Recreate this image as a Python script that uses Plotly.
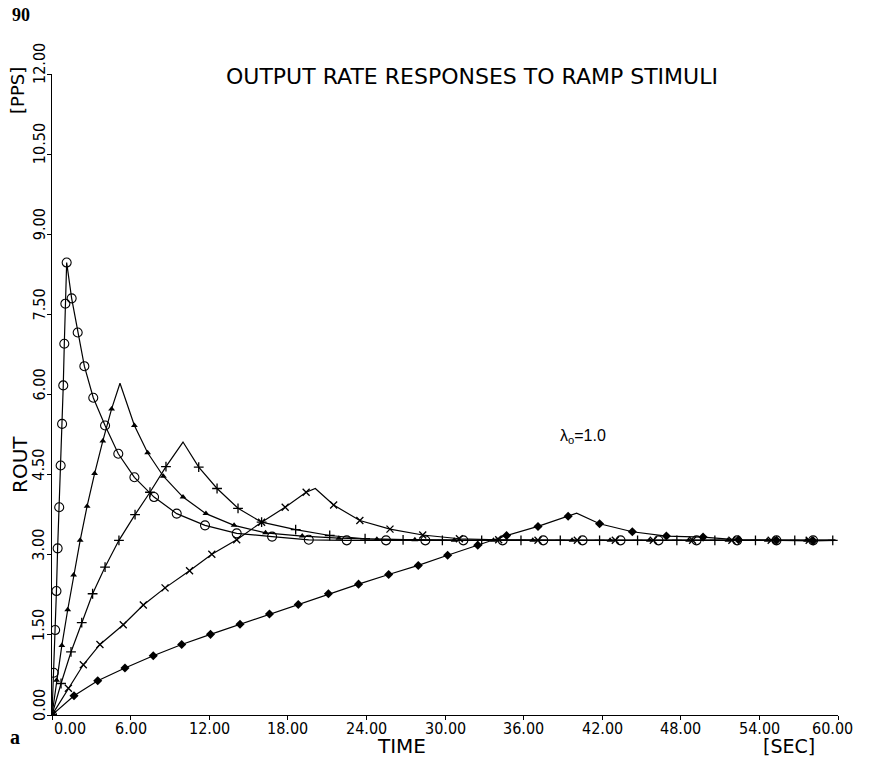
import plotly.graph_objects as go

# ---------------- data ----------------
X_TICKS = [0, 6, 12, 18, 24, 30, 36, 42, 48, 54, 60]
Y_TICKS = [0, 1.5, 3, 4.5, 6, 7.5, 9, 10.5, 12]
X_TICK_TEXT = ["0.00", "6.00", "12.00", "18.00", "24.00", "30.00", "36.00", "42.00", "48.00", "54.00", "60.00"]
Y_TICK_TEXT = ["0.00", "1.50", "3.00", "4.50", "6.00", "7.50", "9.00", "10.50", "12.00"]

# circles (ramp ~1 s)
circ_t = [0, 0.13, 0.24, 0.34, 0.43, 0.55, 0.66, 0.77, 0.86, 0.94, 1.02, 1.12,
          1.50, 1.96, 2.47, 3.15, 4.05, 5.06, 6.29, 7.79, 9.52, 11.68, 14.1, 16.8,
          19.6, 22.5, 25.5, 28.5, 31.4, 34.4, 37.5, 40.5, 43.4, 46.3, 49.2, 52.3, 55.3, 58.1]
circ_v = [0, 0.79, 1.59, 2.32, 3.12, 3.89, 4.67, 5.45, 6.17, 6.95, 7.70, 8.47,
          7.80, 7.16, 6.53, 5.94, 5.42, 4.89, 4.45, 4.08, 3.77, 3.55, 3.40, 3.34,
          3.28, 3.27, 3.27, 3.27, 3.27, 3.27, 3.27, 3.27, 3.27, 3.27, 3.27, 3.27, 3.27, 3.27]
circ_peak = (1.12, 8.47)

# triangles (ramp ~5 s)
tri_t = [0, 0.35, 0.75, 1.20, 1.65, 2.15, 2.68, 3.25, 3.88, 4.55,
         6.29, 7.30, 8.50, 10.0, 11.75, 13.9, 16.3, 19.1, 21.9, 24.8, 27.7,
         30.7, 33.7, 36.7, 39.7, 42.6, 45.6, 48.6, 51.6, 54.6, 57.6]
tri_v = [0, 0.65, 1.30, 1.97, 2.62, 3.27, 3.91, 4.52, 5.13, 5.73,
         5.42, 4.91, 4.47, 4.08, 3.77, 3.55, 3.41, 3.35, 3.31, 3.29, 3.28,
         3.27, 3.27, 3.27, 3.27, 3.27, 3.27, 3.27, 3.27, 3.27, 3.27]
tri_peak = (5.19, 6.21)

# plus (ramp ~10 s)
plus_t = [0, 0.69, 1.45, 2.27, 3.10, 4.05, 5.11, 6.34, 7.48, 8.70,
          11.2, 12.6, 14.2, 16.0, 18.6, 21.2, 23.9, 26.8, 29.8,
          32.8, 35.8, 38.8, 41.8, 44.7, 47.7, 50.6, 53.7, 56.7, 59.6]
plus_v = [0, 0.59, 1.18, 1.73, 2.27, 2.77, 3.27, 3.75, 4.17, 4.65,
          4.64, 4.24, 3.87, 3.61, 3.47, 3.36, 3.30, 3.28, 3.27,
          3.27, 3.27, 3.27, 3.27, 3.27, 3.27, 3.27, 3.27, 3.27, 3.27]
plus_peak = (10.0, 5.11)

# crosses (ramp ~20 s)
x_t = [0, 1.25, 2.39, 3.66, 5.44, 6.97, 8.63, 10.5, 12.2, 14.1, 16.0, 17.8, 19.4,
       21.5, 23.5, 25.8, 28.3, 31.1, 34.1, 37.1, 40.1, 43.0, 45.9, 48.9, 51.9, 54.9, 57.8]
x_v = [0, 0.50, 0.94, 1.32, 1.69, 2.06, 2.38, 2.70, 3.01, 3.28, 3.61, 3.89, 4.17,
       3.93, 3.64, 3.48, 3.37, 3.30, 3.28, 3.27, 3.27, 3.27, 3.27, 3.27, 3.27, 3.27, 3.27]
x_peak = (20.1, 4.24)

# diamonds (ramp ~40 s)
dia_t = [0, 1.68, 3.49, 5.57, 7.73, 9.9, 12.1, 14.35, 16.6, 18.8, 21.1, 23.4, 25.7,
         27.96, 30.2, 32.5, 34.7, 37.1, 39.4,
         41.8, 44.3, 46.9, 49.7, 52.4, 55.3, 58.1]
dia_v = [0, 0.36, 0.64, 0.88, 1.11, 1.32, 1.51, 1.70, 1.89, 2.07, 2.27, 2.45, 2.63,
         2.80, 2.99, 3.18, 3.36, 3.53, 3.72,
         3.58, 3.43, 3.35, 3.33, 3.28, 3.27, 3.26]
dia_peak = (40.05, 3.78)

LINE_END = (59.8, 3.27)

# ---------------- figure ----------------
W, H = 877, 766
ML, MR, MT, MB = 52, 39, 74, 51
PW, PH = W - ML - MR, H - MT - MB


def pxx(xp):
    return (xp - ML) / PW


def pyy(yp):
    return (H - MB - yp) / PH


fig = go.Figure()

series = [
    (circ_t, circ_v, circ_peak, dict(symbol="circle-open", size=9, color="black", line=dict(width=1.1, color="black"))),
    (tri_t, tri_v, tri_peak, dict(symbol="triangle-up", size=6, color="black")),
    (plus_t, plus_v, plus_peak, dict(symbol="cross-thin-open", size=7, color="black", line=dict(width=1.3, color="black"))),
    (x_t, x_v, x_peak, dict(symbol="x-thin-open", size=7, color="black", line=dict(width=1.3, color="black"))),
    (dia_t, dia_v, dia_peak, dict(symbol="diamond", size=7, color="black")),
]

for t, v, peak, mk in series:
    pts = sorted(set(zip(t, v)) | {peak, LINE_END})
    fig.add_trace(go.Scatter(x=[p[0] for p in pts], y=[p[1] for p in pts], mode="lines",
                             line=dict(color="black", width=1.2), hoverinfo="skip", showlegend=False))
    fig.add_trace(go.Scatter(x=t, y=v, mode="markers", marker=mk, showlegend=False))

TICK_FONT = dict(family="Liberation Sans Narrow, DejaVu Sans Condensed, Arial Narrow, sans-serif", size=16, color="black")
PLOT_FONT = dict(family="DejaVu Sans, Liberation Sans, sans-serif", size=22, color="black")

fig.update_xaxes(range=[0, 60], tickvals=X_TICKS, ticktext=X_TICK_TEXT, showticklabels=False,
                 showline=True, linecolor="black", linewidth=1.2, ticks="outside", ticklen=4,
                 tickcolor="black", showgrid=False, zeroline=False, fixedrange=True)
fig.update_yaxes(range=[0, 12], tickvals=Y_TICKS, ticktext=Y_TICK_TEXT, showticklabels=False,
                 showline=True, linecolor="black", linewidth=1.2, ticks="outside", ticklen=4,
                 tickcolor="black", showgrid=False, zeroline=False, fixedrange=True)

ann = []
for i, (val, txt) in enumerate(zip(X_TICKS, X_TICK_TEXT)):
    shift = 18 if i == 0 else (-6 if i == len(X_TICKS) - 1 else 0)
    ann.append(dict(x=val, xref="x", y=pyy(728), yref="paper", text=txt, showarrow=False,
                    xanchor="center", yanchor="middle", xshift=shift, font=TICK_FONT))
for val, txt in zip(Y_TICKS, Y_TICK_TEXT):
    ann.append(dict(x=pxx(39), xref="paper", y=val, yref="y", text=txt, showarrow=False,
                    textangle=-90, xanchor="center", yanchor="middle", yshift=10, font=TICK_FONT))

ann += [
    dict(x=pxx(472), y=pyy(76), text="OUTPUT RATE RESPONSES TO RAMP STIMULI", font=PLOT_FONT),
    dict(x=pxx(20), y=pyy(465), text="ROUT", textangle=-90, font=dict(PLOT_FONT, size=20)),
    dict(x=pxx(18), y=pyy(91), text="[PPS]", textangle=-90, font=dict(PLOT_FONT, size=18)),
    dict(x=pxx(401), y=pyy(746), text="TIME", font=dict(PLOT_FONT, size=20)),
    dict(x=pxx(789), y=pyy(746), text="[SEC]", font=dict(PLOT_FONT, size=19)),
    dict(x=pxx(583), y=pyy(436), text="λ<sub>o</sub>=1.0",
         font=dict(family="Liberation Sans, Arial, sans-serif", size=16, color="black")),
    dict(x=pxx(21), y=pyy(15), text="<b>90</b>",
         font=dict(family="Liberation Serif, Times New Roman, serif", size=18, color="black")),
    dict(x=pxx(15), y=pyy(737), text="<b>a</b>",
         font=dict(family="Liberation Serif, Times New Roman, serif", size=20, color="black")),
]
for a in ann[len(X_TICKS) + len(Y_TICKS):]:
    a.update(xref="paper", yref="paper", showarrow=False, xanchor="center", yanchor="middle")

fig.update_layout(width=W, height=H, margin=dict(l=ML, r=MR, t=MT, b=MB),
                  paper_bgcolor="white", plot_bgcolor="white", annotations=ann,
                  showlegend=False)

fig.write_html("out.html")
